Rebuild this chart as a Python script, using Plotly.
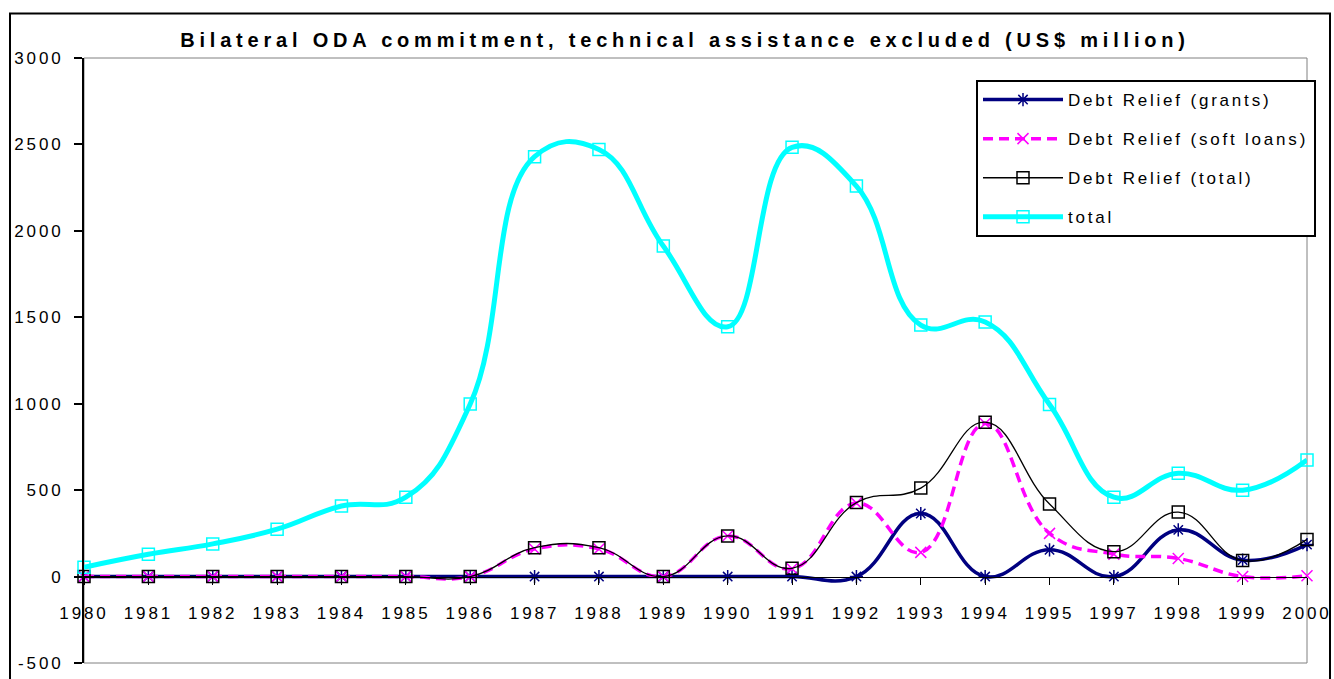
import plotly.graph_objects as go

# Commitment years (1996 is not reported)
years = ["1980", "1981", "1982", "1983", "1984", "1985", "1986", "1987", "1988",
         "1989", "1990", "1991", "1992", "1993", "1994", "1995", "1997", "1998",
         "1999", "2000"]

# US$ million
debt_grants = [0, 0, 0, 0, 0, 0, 0, 0, 0, 0, 0, 0, 0, 365, 0, 155, 0, 270, 95, 185]
debt_soft_loans = [0, 0, 0, 0, 0, 0, 0, 160, 160, 0, 235, 45, 425, 140, 885, 250, 130, 105, 0, 5]
debt_total = [0, 0, 0, 0, 0, 0, 0, 167, 167, 0, 235, 48, 428, 512, 893, 420, 144, 373, 93, 215]
oda_total = [54, 129, 189, 274, 408, 459, 998, 2429, 2471, 1912, 1445, 2483, 2259,
             1455, 1473, 995, 459, 598, 500, 675]

y_ticks = [-500, 0, 500, 1000, 1500, 2000, 2500, 3000]
y_tick_labels = ["-500", "0", "500", "1000", "1500", "2000", "2500", "3000"]

FONT = "Liberation Sans, Arial"

fig = go.Figure()

series = [
    dict(name="Debt Relief (grants)", y=debt_grants,
         line=dict(color="#000080", width=3.5),
         marker=dict(symbol="asterisk-open", size=11, color="#000080",
                     line=dict(color="#000080", width=1.5))),
    dict(name="Debt Relief (soft loans)", y=debt_soft_loans,
         line=dict(color="#FF00FF", width=3.5, dash="10px,6px"),
         marker=dict(symbol="x-thin-open", size=11, color="#FF00FF",
                     line=dict(color="#FF00FF", width=1.5))),
    dict(name="Debt Relief (total)", y=debt_total,
         line=dict(color="#000000", width=1.3),
         marker=dict(symbol="square-open", size=12, color="#000000",
                     line=dict(color="#000000", width=1.5))),
    dict(name="total", y=oda_total,
         line=dict(color="#00FFFF", width=5),
         marker=dict(symbol="square-open", size=12, color="#00FFFF",
                     line=dict(color="#00FFFF", width=1.5))),
]

for i, s in enumerate(series):
    ln = dict(s["line"])
    ln.update(shape="spline", smoothing=1.25)
    fig.add_trace(go.Scatter(
        x=years, y=s["y"], name=s["name"], mode="lines+markers",
        line=ln, marker=s["marker"], cliponaxis=False,
        legendgroup="g%d" % i,
    ))

zero_pos = (0 - y_ticks[0]) / (y_ticks[-1] - y_ticks[0])

fig.update_layout(
    width=1334, height=679,
    margin=dict(l=84, r=27, t=58, b=16, autoexpand=False),
    paper_bgcolor="white", plot_bgcolor="white",
    font=dict(family=FONT, color="black", size=17),
    title=dict(
        text="Bilateral ODA commitment, technical assistance excluded (US$ million)",
        font=dict(family=FONT, size=20, weight="bold", color="black"),
        x=0.4914, xref="paper", xanchor="center",
        y=1 - 40 / 679, yref="container", yanchor="middle",
    ),
    xaxis=dict(
        type="category", categoryorder="array", categoryarray=years,
        range=[0, len(years) - 1],
        anchor="free", position=zero_pos,
        showline=True, linecolor="black", linewidth=1,
        ticks="outside", ticklen=7, tickcolor="black", tickwidth=1,
        ticklabelstandoff=14,
        tickfont=dict(family=FONT, size=17, color="black"),
        showgrid=False, zeroline=False,
    ),
    xaxis2=dict(
        overlaying="x", range=[0, len(years) - 1], anchor="free", position=zero_pos,
        tickvals=list(range(len(years))), ticks="inside", ticklen=7,
        tickcolor="black", tickwidth=1, showticklabels=False,
        showline=False, showgrid=False, zeroline=False,
    ),
    yaxis=dict(
        range=[y_ticks[0], y_ticks[-1]],
        tickvals=y_ticks, ticktext=y_tick_labels,
        showline=True, linecolor="black", linewidth=2,
        ticks="outside", ticklen=8, tickcolor="black", tickwidth=2,
        ticklabelstandoff=7,
        tickfont=dict(family=FONT, size=17, color="black"),
        showgrid=False, zeroline=False,
    ),
    yaxis2=dict(
        overlaying="y", range=[y_ticks[0], y_ticks[-1]], anchor="free", position=0,
        side="left", tickvals=y_ticks, ticks="inside", ticklen=8,
        tickcolor="black", tickwidth=2, showticklabels=False,
        showline=False, showgrid=False, zeroline=False,
    ),
    showlegend=True,
    legend=dict(
        x=(976 - 84) / 1223, xanchor="left",
        y=1 - (80 - 58) / 605, yanchor="top",
        bgcolor="white", bordercolor="black", borderwidth=2,
        font=dict(family=FONT, size=17, color="black"),
        traceorder="grouped", tracegroupgap=14, itemwidth=80,
    ),
    shapes=[
        # plot area frame
        dict(type="rect", xref="paper", yref="paper", x0=0, x1=1, y0=0, y1=1,
             line=dict(color="#808080", width=1), layer="below"),
        # chart area frame
        dict(type="rect", xref="paper", yref="paper",
             x0=(10 - 84) / 1223, x1=(1330 - 84) / 1223,
             y0=-0.08, y1=1 + (58 - 13.5) / 605,
             line=dict(color="black", width=2), layer="below"),
    ],
)

# Wider character spacing on the chart texts; the legend is redrawn so its
# box is sized with the spaced text.
post_js = """
var gd = document.getElementById('{plot_id}');
var css = document.createElement('style');
css.textContent = '.gtitle{letter-spacing:4.8px}' +
  '.legendtext{letter-spacing:2.8px}' +
  '.xtick text,.ytick text{letter-spacing:2.9px}';
document.head.appendChild(css);
Plotly.relayout(gd, {'legend.font.family': 'Liberation Sans, Arial, sans-serif'});
"""

fig.write_html("out.html", post_script=post_js)
